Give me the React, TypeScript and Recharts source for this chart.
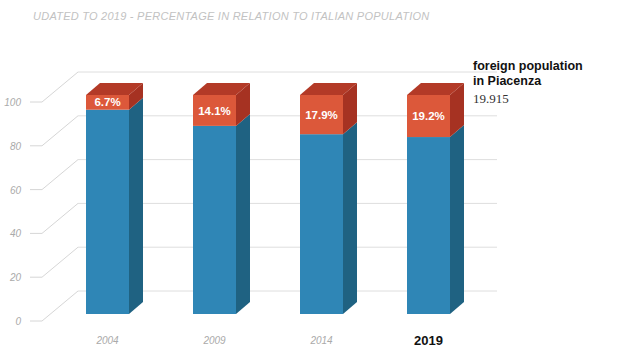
import React from 'react'
import { Bar, BarChart, CartesianGrid, LabelList, XAxis, YAxis } from 'recharts'

// values
const years = ['2004', '2009', '2014', '2019']
const italianPct = [93.3, 85.9, 82.1, 80.8]
const foreignPct = [6.7, 14.1, 17.9, 19.2]
const yTicks = [0, 20, 40, 60, 80, 100]

const data = years.map((year, i) => ({ year, italian: italianPct[i], foreign: foreignPct[i] }))

// depth of the fake 3d look
const DX = 14
const DY = 12
// the back wall sits up/right of the front plane
const BACK_X = 78
const BACK_DY = 23

const BlueBlock = (props: any) => {
  const { x, y, width: w, height: h } = props
  return (
    <g>
      <rect x={x} y={y} width={w} height={h} fill="#2f86b6" />
      <polygon
        points={`${x + w},${y} ${x + w + DX},${y - DY} ${x + w + DX},${y + h - DY} ${x + w},${y + h}`}
        fill="#1f6282"
      />
    </g>
  )
}

const RedBlock = (props: any) => {
  const { x, y, width: w, height: h } = props
  return (
    <g>
      <rect x={x} y={y} width={w} height={h} fill="#dc583a" />
      <polygon
        points={`${x + w},${y} ${x + w + DX},${y - DY} ${x + w + DX},${y + h - DY} ${x + w},${y + h}`}
        fill="#a63222"
      />
      <polygon points={`${x},${y} ${x + DX},${y - DY} ${x + w + DX},${y - DY} ${x + w},${y}`} fill="#b33a27" />
    </g>
  )
}

// y tick: label on the left, then a little "_/" line up to the back wall
const YTick = (props: any) => {
  const { y, payload } = props
  return (
    <g>
      <text x={21} y={y + 11} textAnchor="end" fontSize={10} fontStyle="italic" fill="#aaa">
        {payload.value}
      </text>
      <polyline
        points={`30,${y + 7} 42,${y + 7} ${BACK_X},${y - BACK_DY}`}
        fill="none"
        stroke="#d6d6d6"
        strokeWidth={1}
      />
    </g>
  )
}

const XTick = (props: any) => {
  const { x, payload } = props
  const last = payload.value === '2019'
  return (
    <text
      x={x}
      y={last ? 345 : 344}
      textAnchor="middle"
      fontSize={last ? 13 : 10}
      fontWeight={last ? 'bold' : 'normal'}
      fontStyle={last ? 'normal' : 'italic'}
      fill={last ? '#111' : '#aaa'}
    >
      {payload.value}
    </text>
  )
}

const BackLine = (props: any) => {
  const { y1, x2 } = props
  return <line key={props.key} x1={BACK_X} y1={y1 - BACK_DY} x2={x2 + 15} y2={y1 - BACK_DY} stroke="#dedede" />
}

const App = () => {
  return (
    <div style={{ position: 'absolute', left: 0, top: 0, width: 639, height: 347, fontFamily: '"Liberation Sans", Arial, sans-serif', background: '#fff' }}>
      <div style={{ position: 'absolute', left: 33, top: 10, fontSize: 11, letterSpacing: 0.25, fontStyle: 'italic', color: '#c2c2c2', whiteSpace: 'nowrap' }}>
        UDATED TO 2019 - PERCENTAGE IN RELATION TO ITALIAN POPULATION
      </div>
      <BarChart width={639} height={347} data={data} margin={{ top: 95, right: 157, left: 0, bottom: 0 }} barSize={43}>
        <CartesianGrid vertical={false} horizontal={BackLine} />
        <YAxis
          type="number"
          domain={[0, 100]}
          ticks={yTicks}
          width={54}
          axisLine={false}
          tickLine={false}
          tick={YTick}
        />
        <XAxis dataKey="year" height={33} axisLine={false} tickLine={false} tick={XTick} />
        <Bar dataKey="italian" stackId="a" shape={BlueBlock} isAnimationActive={false} />
        <Bar dataKey="foreign" stackId="a" shape={RedBlock} isAnimationActive={false}>
          <LabelList
            dataKey="foreign"
            position="center"
            formatter={(v: any) => `${v}%`}
            fill="#fff"
            fontSize={11.5}
            fontWeight="bold"
          />
        </Bar>
      </BarChart>
      <div style={{ position: 'absolute', left: 473, top: 59, fontSize: 12.5, fontWeight: 'bold', color: '#111', lineHeight: '15px' }}>
        foreign population
        <br />
        in Piacenza
      </div>
      <div style={{ position: 'absolute', left: 473, top: 91, fontSize: 13, fontFamily: '"Liberation Serif", serif', color: '#333' }}>
        19.915
      </div>
    </div>
  )
}

export default App
